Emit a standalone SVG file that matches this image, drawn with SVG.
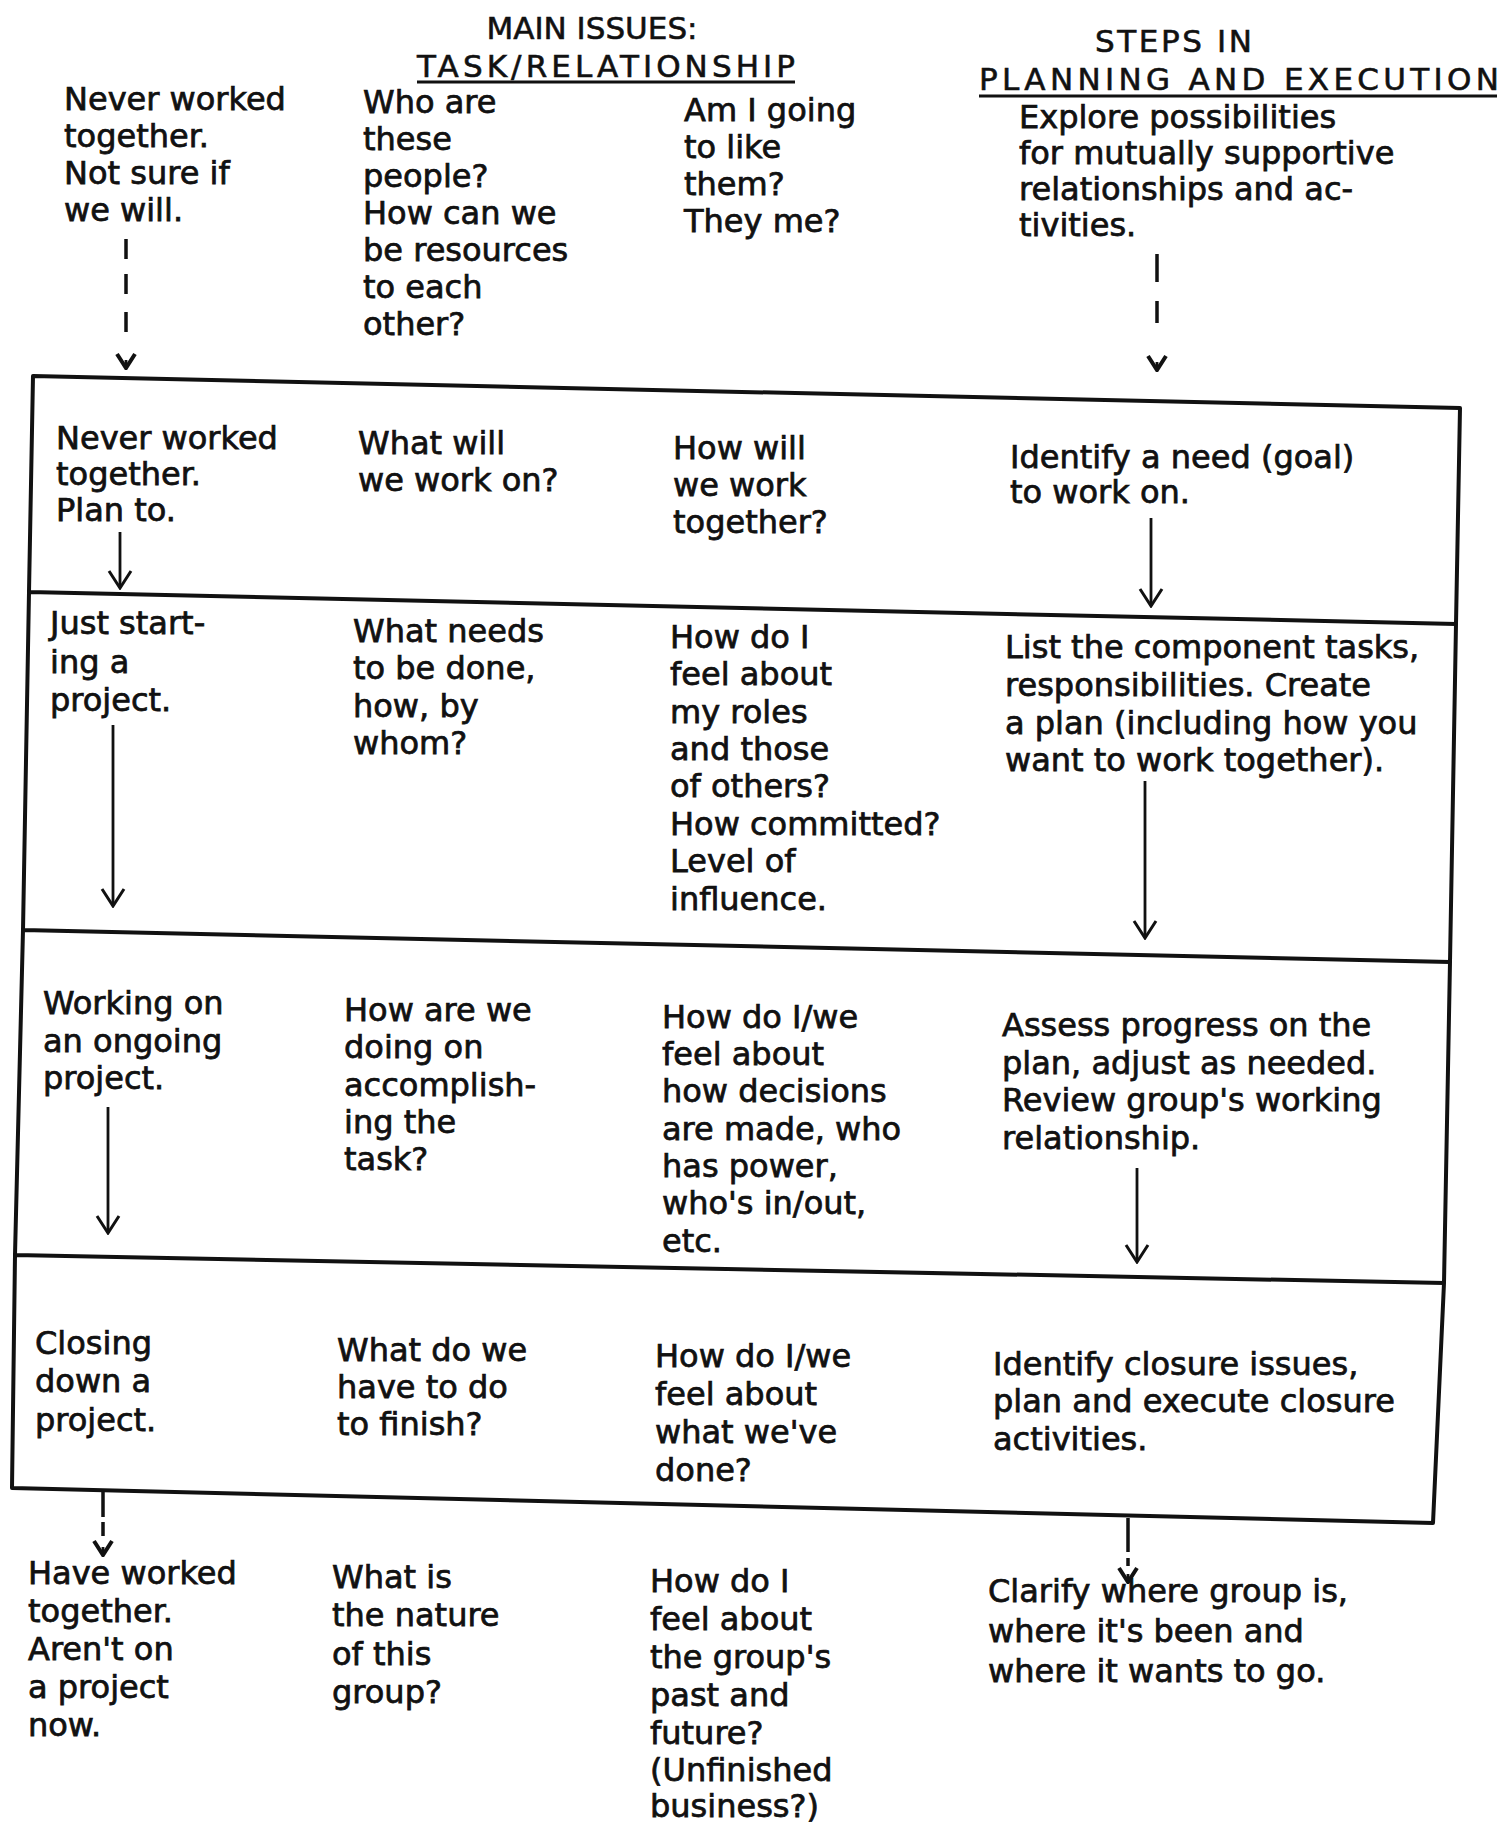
<svg xmlns="http://www.w3.org/2000/svg" width="1497" height="1827" viewBox="0 0 1497 1827">
<style>
text{font-family:"DejaVu Sans","Liberation Sans",sans-serif;font-size:32px;fill:#111;stroke:#111;stroke-width:0.75}
.h{font-size:31px;stroke-width:0.6}
.grid{fill:none;stroke:#111;stroke-width:4;stroke-linecap:round;stroke-linejoin:round}
.ar{fill:none;stroke:#111;stroke-width:2.8}
.dash{fill:none;stroke:#111;stroke-width:3.5}
.ul{stroke:#111;stroke-width:3}
</style>
<defs>
<marker id="ah" viewBox="-20 -14 22 28" refX="0" refY="0" markerWidth="22" markerHeight="28" markerUnits="userSpaceOnUse" orient="auto"><path d="M-17,-11 L0,0 L-17,11" fill="none" stroke="#111" stroke-width="3"/></marker>
<marker id="ah2" viewBox="-20 -14 22 28" refX="0" refY="0" markerWidth="22" markerHeight="28" markerUnits="userSpaceOnUse" orient="auto"><path d="M-14,-9 L0,0 L-14,9" fill="none" stroke="#111" stroke-width="4"/></marker>
</defs>
<rect width="1497" height="1827" fill="#fff"/>

<g id="headers">
<text class="h" x="592" y="39" text-anchor="middle">MAIN ISSUES:</text>
<text class="h" x="417" y="77" textLength="378" lengthAdjust="spacing">TASK/RELATIONSHIP</text>
<line class="ul" x1="417" y1="82" x2="795" y2="82"/>
<text class="h" x="1095" y="52" textLength="157" lengthAdjust="spacing">STEPS IN</text>
<text class="h" x="979" y="90" textLength="520" lengthAdjust="spacing">PLANNING AND EXECUTION</text>
<line class="ul" x1="979" y1="96" x2="1497" y2="96"/>
</g>

<g id="grid">
<path class="grid" d="M33,376 L1460,408 L1456,624 L1450,962 L1444,1283 L1433,1523 L12,1488 L15,1255 L23,930 L29,592 Z M29,592 L1456,624 M23,930 L1450,962 M15,1255 L1444,1283"/>
</g>

<g id="connectors">
<path class="dash" d="M126,239 L126,259 M126,274 L126,294 M126,312 L126,332"/>
<path class="ar" d="M126,360 L126,368" marker-end="url(#ah2)"/>
<path class="dash" d="M1157,254 L1157,282 M1157,301 L1157,323"/>
<path class="ar" d="M1157,362 L1157,370" marker-end="url(#ah2)"/>
<path class="ar" d="M120,532 L120,588" marker-end="url(#ah)"/>
<path class="ar" d="M1151,518 L1151,606" marker-end="url(#ah)"/>
<path class="ar" d="M113,725 L113,906" marker-end="url(#ah)"/>
<path class="ar" d="M1145,781 L1145,938" marker-end="url(#ah)"/>
<path class="ar" d="M108,1107 L108,1233" marker-end="url(#ah)"/>
<path class="ar" d="M1137,1168 L1137,1262" marker-end="url(#ah)"/>
<path class="dash" d="M103,1491 L103,1517 M103,1522 L103,1536"/>
<path class="ar" d="M103,1547 L103,1555" marker-end="url(#ah2)"/>
<path class="dash" d="M1128,1518 L1128,1552 M1128,1558 L1128,1566"/>
<path class="ar" d="M1128,1574 L1128,1582" marker-end="url(#ah2)"/>
</g>

<g id="r0c1"><text><tspan x="64" y="110">Never worked</tspan><tspan x="64" y="147">together.</tspan><tspan x="64" y="184">Not sure if</tspan><tspan x="64" y="221">we will.</tspan></text></g>
<g id="r0c2"><text><tspan x="363" y="113">Who are</tspan><tspan x="363" y="150">these</tspan><tspan x="363" y="187">people?</tspan><tspan x="363" y="224">How can we</tspan><tspan x="363" y="261">be resources</tspan><tspan x="363" y="298">to each</tspan><tspan x="363" y="335">other?</tspan></text></g>
<g id="r0c3"><text><tspan x="684" y="121">Am I going</tspan><tspan x="684" y="158">to like</tspan><tspan x="684" y="195">them?</tspan><tspan x="684" y="232">They me?</tspan></text></g>
<g id="r0c4"><text><tspan x="1019" y="128">Explore possibilities</tspan><tspan x="1019" y="164">for mutually supportive</tspan><tspan x="1019" y="200">relationships and ac-</tspan><tspan x="1019" y="236">tivities.</tspan></text></g>

<g id="r1c1"><text><tspan x="56" y="449">Never worked</tspan><tspan x="56" y="485">together.</tspan><tspan x="56" y="521">Plan to.</tspan></text></g>
<g id="r1c2"><text><tspan x="358" y="454">What will</tspan><tspan x="358" y="491">we work on?</tspan></text></g>
<g id="r1c3"><text><tspan x="673" y="459">How will</tspan><tspan x="673" y="496">we work</tspan><tspan x="673" y="533">together?</tspan></text></g>
<g id="r1c4"><text><tspan x="1010" y="468">Identify a need (goal)</tspan><tspan x="1010" y="503">to work on.</tspan></text></g>

<g id="r2c1"><text><tspan x="50" y="634">Just start-</tspan><tspan x="50" y="673">ing a</tspan><tspan x="50" y="711">project.</tspan></text></g>
<g id="r2c2"><text><tspan x="353" y="642">What needs</tspan><tspan x="353" y="679">to be done,</tspan><tspan x="353" y="717">how, by</tspan><tspan x="353" y="754">whom?</tspan></text></g>
<g id="r2c3"><text><tspan x="670" y="648">How do I</tspan><tspan x="670" y="685">feel about</tspan><tspan x="670" y="723">my roles</tspan><tspan x="670" y="760">and those</tspan><tspan x="670" y="797">of others?</tspan><tspan x="670" y="835">How committed?</tspan><tspan x="670" y="872">Level of</tspan><tspan x="670" y="910">influence.</tspan></text></g>
<g id="r2c4"><text><tspan x="1005" y="658">List the component tasks,</tspan><tspan x="1005" y="696">responsibilities.  Create</tspan><tspan x="1005" y="734">a plan (including how you</tspan><tspan x="1005" y="771">want to work together).</tspan></text></g>

<g id="r3c1"><text><tspan x="43" y="1014">Working on</tspan><tspan x="43" y="1052">an ongoing</tspan><tspan x="43" y="1089">project.</tspan></text></g>
<g id="r3c2"><text><tspan x="344" y="1021">How are we</tspan><tspan x="344" y="1058">doing on</tspan><tspan x="344" y="1096">accomplish-</tspan><tspan x="344" y="1133">ing the</tspan><tspan x="344" y="1170">task?</tspan></text></g>
<g id="r3c3"><text><tspan x="662" y="1028">How do I/we</tspan><tspan x="662" y="1065">feel about</tspan><tspan x="662" y="1102">how decisions</tspan><tspan x="662" y="1140">are made, who</tspan><tspan x="662" y="1177">has power,</tspan><tspan x="662" y="1214">who's in/out,</tspan><tspan x="662" y="1252">etc.</tspan></text></g>
<g id="r3c4"><text><tspan x="1002" y="1036">Assess progress on the</tspan><tspan x="1002" y="1074">plan, adjust as needed.</tspan><tspan x="1002" y="1111">Review group's working</tspan><tspan x="1002" y="1149">relationship.</tspan></text></g>

<g id="r4c1"><text><tspan x="35" y="1354">Closing</tspan><tspan x="35" y="1392">down a</tspan><tspan x="35" y="1431">project.</tspan></text></g>
<g id="r4c2"><text><tspan x="337" y="1361">What do we</tspan><tspan x="337" y="1398">have to do</tspan><tspan x="337" y="1435">to finish?</tspan></text></g>
<g id="r4c3"><text><tspan x="655" y="1367">How do I/we</tspan><tspan x="655" y="1405">feel about</tspan><tspan x="655" y="1443">what we've</tspan><tspan x="655" y="1481">done?</tspan></text></g>
<g id="r4c4"><text><tspan x="993" y="1375">Identify closure issues,</tspan><tspan x="993" y="1412">plan and execute closure</tspan><tspan x="993" y="1450">activities.</tspan></text></g>

<g id="r5c1"><text><tspan x="28" y="1584">Have worked</tspan><tspan x="28" y="1622">together.</tspan><tspan x="28" y="1660">Aren't on</tspan><tspan x="28" y="1698">a project</tspan><tspan x="28" y="1736">now.</tspan></text></g>
<g id="r5c2"><text><tspan x="332" y="1588">What is</tspan><tspan x="332" y="1626">the nature</tspan><tspan x="332" y="1665">of this</tspan><tspan x="332" y="1703">group?</tspan></text></g>
<g id="r5c3"><text><tspan x="650" y="1592">How do I</tspan><tspan x="650" y="1630">feel about</tspan><tspan x="650" y="1668">the group's</tspan><tspan x="650" y="1706">past and</tspan><tspan x="650" y="1744">future?</tspan><tspan x="650" y="1781">(Unfinished</tspan><tspan x="650" y="1817">business?)</tspan></text></g>
<g id="r5c4"><text><tspan x="988" y="1602">Clarify where group is,</tspan><tspan x="988" y="1642">where it's been and</tspan><tspan x="988" y="1682">where it wants to go.</tspan></text></g>
</svg>
